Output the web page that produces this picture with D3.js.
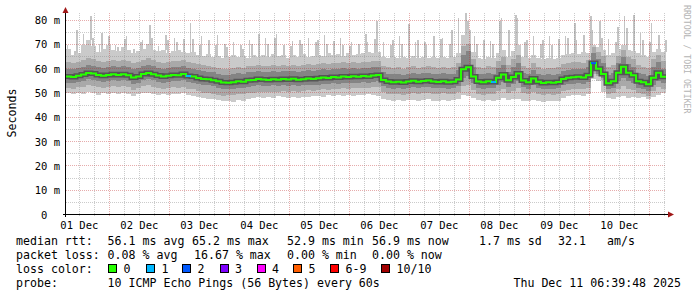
<!DOCTYPE html>
<html>
<head>
<meta charset="utf-8">
<script src="https://cdn.jsdelivr.net/npm/d3@7"></script>
<style>
body { margin: 0; background: #fff; }
svg { display: block; }
text { font-family: "DejaVu Sans Mono", monospace; fill: #000; white-space: pre; }
</style>
</head>
<body>
<svg id="chart" width="697" height="297"></svg>
<script>
// time range of the graph (10 days, 2 hour samples)
var startTime = new Date(2025, 11, 1, 6, 39, 48);
var endTime = new Date(2025, 11, 11, 6, 39, 48);
var stepHours = 2;

// median rtt per sample, ms
var medianMs = [
	57.0, 56.8, 57.3, 57.8, 58.4, 58.2, 57.6, 57.3, 57.6, 57.9,
	57.6, 57.9, 57.5, 56.6, 57.0, 58.0, 58.4, 57.9, 57.4, 57.0,
	57.3, 57.6, 57.5, 58.0, 57.2, 57.0, 56.4, 56.0, 55.9, 55.5,
	55.0, 54.5, 54.4, 54.6, 55.0, 54.8, 55.4, 55.6, 56.0, 55.8,
	55.6, 55.9, 55.7, 56.0, 55.8, 56.1, 55.7, 55.9, 56.2, 56.0,
	56.3, 56.6, 56.4, 56.8, 56.6, 57.0, 56.8, 57.1, 56.9, 57.2,
	57.0, 57.4, 57.6, 55.6, 54.9, 54.6, 54.8, 54.5, 54.9, 55.2,
	54.8, 55.1, 55.3, 54.9, 54.7, 55.0, 54.6, 54.8, 55.8, 60.0,
	60.8, 57.0, 54.9, 54.6, 55.0, 54.7, 56.5, 57.8, 55.4, 56.8,
	58.2, 55.3, 54.6, 56.2, 54.8, 54.3, 54.6, 54.4, 54.7, 56.0,
	56.5, 56.7, 56.9, 56.6, 57.5, 62.5, 60.2, 58.0, 54.2, 55.0,
	58.5, 61.0, 58.5, 57.5, 55.0, 54.6, 53.8, 56.5, 58.5, 56.9
];

// lowest ping per sample
var pingLo = [
	50.0, 49.6, 50.2, 49.8, 50.5, 50.0, 49.5, 50.1, 49.8, 50.3,
	49.9, 50.2, 49.6, 49.0, 49.8, 50.1, 50.4, 49.7, 49.5, 49.8,
	49.4, 49.8, 49.6, 50.0, 49.2, 49.0, 48.6, 48.2, 47.8, 47.6,
	47.2, 46.8, 47.0, 46.6, 47.3, 47.0, 47.8, 48.0, 48.4, 48.2,
	48.6, 48.2, 48.8, 48.4, 48.0, 48.6, 48.3, 48.7, 48.5, 48.9,
	49.0, 48.6, 49.2, 48.8, 49.4, 49.0, 49.3, 48.9, 49.2, 49.5,
	49.6, 49.2, 49.0, 47.6, 47.2, 47.0, 47.4, 46.8, 47.2, 47.5,
	47.0, 47.4, 47.6, 47.1, 46.9, 47.3, 47.0, 47.2, 47.8, 49.5,
	49.0, 48.2, 47.4, 47.0, 47.3, 46.9, 47.5, 48.0, 47.2, 47.6,
	47.8, 47.0, 46.8, 47.4, 47.0, 46.6, 47.0, 46.8, 47.1, 48.0,
	48.8, 49.2, 49.5, 49.0, 49.6, 56.0, 55.0, 50.5, 48.0, 47.6,
	48.5, 49.0, 48.2, 48.6, 48.0, 48.4, 47.8, 48.6, 49.4, 50.0
];

// lower edge of the middle smoke band
var pingQ1 = [
	52.4, 52.0, 52.6, 52.8, 53.4, 53.2, 52.6, 52.4, 52.8, 53.0,
	52.8, 53.2, 52.6, 51.6, 52.2, 53.0, 53.4, 52.8, 52.4, 52.0,
	52.2, 52.6, 52.4, 52.8, 52.0, 51.8, 51.0, 50.4, 50.2, 49.8,
	49.4, 49.0, 49.2, 49.4, 49.8, 49.6, 50.2, 50.4, 50.8, 50.6,
	50.6, 50.8, 50.6, 51.0, 50.8, 51.2, 50.8, 51.0, 51.4, 51.2,
	51.4, 51.8, 51.6, 52.0, 51.8, 52.2, 52.0, 52.4, 52.2, 52.4,
	52.2, 52.6, 52.8, 50.6, 49.8, 49.6, 49.8, 49.4, 49.8, 50.0,
	49.8, 50.0, 50.2, 49.8, 49.6, 50.0, 49.6, 49.8, 50.6, 53.0,
	53.4, 51.6, 49.8, 49.4, 49.8, 49.6, 51.0, 52.0, 50.2, 51.2,
	52.4, 50.2, 49.6, 50.8, 49.8, 49.2, 49.6, 49.4, 49.8, 51.0,
	51.6, 51.8, 52.0, 51.8, 52.4, 58.0, 57.0, 55.5, 49.6, 50.0,
	52.0, 53.0, 52.0, 51.6, 50.0, 49.6, 49.0, 51.0, 52.5, 52.0
];

// dark inner band, lower edge
var pingC1 = [
	54.5, 54.3, 54.8, 55.2, 55.8, 55.6, 55.0, 54.8, 55.1, 55.4,
	55.1, 55.4, 55.0, 54.0, 54.5, 55.5, 55.9, 55.4, 54.9, 54.5,
	54.8, 55.1, 55.0, 55.5, 54.7, 54.5, 53.8, 53.4, 53.3, 52.9,
	52.4, 51.9, 51.8, 52.0, 52.4, 52.2, 52.8, 53.0, 53.4, 53.2,
	53.0, 53.3, 53.1, 53.4, 53.2, 53.5, 53.1, 53.3, 53.6, 53.4,
	53.7, 54.0, 53.8, 54.2, 54.0, 54.4, 54.2, 54.5, 54.3, 54.6,
	54.4, 54.8, 55.0, 53.0, 52.3, 52.0, 52.2, 51.9, 52.3, 52.6,
	52.2, 52.5, 52.7, 52.3, 52.1, 52.4, 52.0, 52.2, 53.2, 56.5,
	57.0, 54.2, 52.3, 52.0, 52.4, 52.1, 53.6, 54.6, 52.8, 54.0,
	55.2, 52.7, 52.0, 53.4, 52.2, 51.7, 52.0, 51.8, 52.1, 53.4,
	53.9, 54.1, 54.3, 54.0, 54.8, 59.5, 58.0, 56.5, 51.8, 52.4,
	55.0, 56.5, 55.0, 54.5, 52.4, 52.0, 51.2, 53.5, 55.0, 54.3
];

// dark inner band, upper edge
var pingC2 = [
	60.2, 60.0, 60.6, 61.0, 61.8, 61.4, 60.8, 60.6, 60.9, 61.2,
	60.9, 61.2, 60.8, 60.0, 60.4, 61.4, 61.8, 61.2, 60.6, 60.2,
	60.6, 60.9, 60.8, 61.2, 60.4, 60.2, 59.6, 59.2, 59.0, 58.7,
	58.2, 57.8, 57.7, 57.9, 58.3, 58.1, 58.7, 58.9, 59.3, 59.0,
	58.9, 59.2, 59.0, 59.3, 59.1, 59.4, 59.0, 59.2, 59.5, 59.3,
	59.6, 59.9, 59.7, 60.1, 59.9, 60.3, 60.1, 60.4, 60.2, 60.5,
	60.3, 60.7, 60.9, 58.8, 58.2, 57.9, 58.1, 57.8, 58.2, 58.5,
	58.1, 58.4, 58.6, 58.2, 58.0, 58.3, 57.9, 58.1, 59.5, 66.0,
	67.5, 61.0, 58.2, 57.9, 58.3, 58.0, 60.5, 61.8, 58.8, 61.0,
	62.5, 58.6, 57.9, 59.8, 58.1, 57.6, 57.9, 57.7, 58.0, 59.4,
	59.8, 60.0, 60.2, 59.9, 60.8, 66.5, 64.0, 62.5, 57.8, 58.5,
	62.5, 65.0, 62.0, 61.0, 58.5, 58.0, 57.2, 61.0, 63.0, 60.2
];

// upper edge of the middle smoke band
var pingQ3 = [
	62.8, 62.4, 63.0, 63.6, 64.4, 64.0, 63.2, 63.0, 63.4, 63.8,
	63.4, 63.8, 63.2, 62.4, 62.8, 63.8, 64.4, 63.6, 63.0, 62.6,
	63.0, 63.4, 63.2, 63.8, 62.8, 62.6, 62.0, 61.6, 61.4, 61.0,
	60.6, 60.2, 60.0, 60.4, 60.8, 60.6, 61.2, 61.4, 61.8, 61.4,
	61.2, 61.6, 61.4, 61.8, 61.4, 61.8, 61.2, 61.6, 62.0, 61.8,
	62.0, 62.4, 62.2, 62.6, 62.4, 62.8, 62.6, 63.0, 62.6, 63.0,
	62.8, 63.2, 63.4, 61.4, 60.8, 60.4, 60.8, 60.2, 60.8, 61.2,
	60.6, 61.0, 61.2, 60.8, 60.6, 61.0, 60.4, 60.8, 62.5, 69.5,
	70.5, 64.0, 61.0, 60.6, 61.2, 60.8, 63.5, 65.0, 61.8, 64.0,
	66.0, 61.4, 60.6, 62.6, 60.8, 60.2, 60.6, 60.4, 60.8, 62.2,
	62.6, 62.8, 63.0, 62.6, 63.6, 69.0, 67.0, 65.5, 61.0, 61.8,
	65.5, 68.0, 65.0, 64.0, 61.6, 61.0, 60.4, 64.0, 66.0, 63.2
];

// top of the dense light smoke
var pingRoof = [
	68.5, 66.0, 66.8, 70.0, 72.0, 69.5, 67.0, 68.5, 70.0, 68.0,
	67.5, 69.0, 68.0, 66.5, 67.5, 68.5, 70.5, 68.0, 67.5, 68.0,
	66.8, 67.5, 68.0, 67.0, 66.5, 67.2, 66.0, 65.5, 66.2, 65.0,
	65.5, 64.8, 65.2, 66.0, 65.0, 65.6, 64.5, 66.0, 65.2, 65.8,
	65.0, 66.2, 65.4, 65.8, 64.6, 66.0, 65.2, 66.4, 65.0, 65.6,
	66.0, 65.4, 66.6, 65.8, 66.2, 65.6, 66.8, 66.0, 66.4, 66.8,
	67.0, 66.5, 67.2, 65.0, 64.6, 65.2, 64.4, 65.0, 64.6, 65.4,
	64.8, 65.2, 64.6, 65.0, 64.4, 65.2, 64.6, 65.0, 66.5, 74.0,
	76.0, 67.0, 64.5, 64.2, 65.0, 64.6, 66.5, 68.0, 65.0, 67.5,
	70.0, 65.0, 64.4, 66.0, 64.6, 64.0, 64.4, 64.2, 64.8, 65.8,
	66.2, 66.8, 66.4, 67.0, 66.8, 70.0, 69.0, 68.0, 66.0, 66.8,
	68.5, 70.0, 68.0, 67.5, 66.5, 66.0, 65.2, 67.0, 68.5, 67.0
];

// highest ping per sample (thin spikes)
var pingPeak = [
	70.0, 67.5, 76.0, 74.5, 82.0, 73.0, 70.5, 75.0, 73.5, 70.0,
	69.0, 72.5, 73.5, 68.5, 71.0, 72.0, 78.0, 73.0, 69.5, 74.0,
	72.0, 73.0, 71.0, 72.5, 79.0, 72.5, 70.0, 73.5, 72.0, 70.0,
	74.0, 70.5, 69.0, 71.0, 70.0, 68.5, 72.0, 70.5, 74.5, 73.0,
	70.5, 73.0, 74.5, 70.0, 69.5, 71.5, 72.0, 70.5, 73.0, 71.0,
	72.0, 74.0, 70.5, 71.5, 73.0, 70.0, 69.5, 71.0, 70.5, 74.5,
	71.0, 72.5, 80.0, 71.0, 70.0, 72.0, 73.5, 70.5, 78.5, 71.0,
	72.0, 71.0, 70.0, 73.5, 72.5, 73.0, 70.5, 76.0, 81.0, 83.0,
	80.0, 73.5, 70.5, 72.0, 71.5, 70.5, 80.0, 81.0, 76.0, 82.5,
	81.0, 71.0, 72.0, 73.5, 70.5, 72.0, 73.5, 70.0, 72.5, 73.5,
	73.0, 79.0, 72.0, 74.0, 82.0, 76.0, 80.0, 73.0, 72.5, 71.0,
	77.5, 82.0, 77.0, 82.5, 75.0, 72.0, 71.0, 79.0, 74.0, 72.0
];

// lost pings (of 10) per sample
var lossPings = [
	0, 0, 0, 0, 0, 0, 0, 0, 0, 0,
	0, 0, 0, 0, 0, 0, 0, 0, 0, 0,
	0, 0, 0, 0, 1, 0, 0, 0, 0, 0,
	0, 0, 0, 0, 0, 0, 0, 0, 0, 0,
	0, 0, 0, 0, 0, 0, 0, 0, 0, 0,
	0, 0, 0, 0, 0, 0, 0, 0, 0, 0,
	0, 0, 0, 0, 0, 0, 0, 0, 0, 0,
	0, 0, 0, 0, 0, 0, 0, 0, 0, 0,
	0, 0, 0, 0, 0, 1, 0, 0, 0, 0,
	0, 0, 0, 0, 0, 0, 0, 0, 0, 0,
	0, 0, 0, 0, 0, 2, 0, 0, 0, 0,
	0, 0, 0, 0, 0, 0, 0, 0, 0, 0
];

var dayLabels = ["01 Dec", "02 Dec", "03 Dec", "04 Dec", "05 Dec", "06 Dec", "07 Dec", "08 Dec", "09 Dec", "10 Dec"];
var yTicks = [0, 10, 20, 30, 40, 50, 60, 70, 80];
var yTickLabels = ["0  ", "10 m", "20 m", "30 m", "40 m", "50 m", "60 m", "70 m", "80 m"];

var lossLabels = ["0", "1", "2", "3", "4", "5", "6-9", "10/10"];
var lossColors = ["#26ff00", "#00b8ff", "#0059ff", "#7e00ff", "#ff00ff", "#ff5e00", "#ff0000", "#a10000"];
var rttStats = ["56.1 ms avg", "65.2 ms max", "52.9 ms min", "56.9 ms now", "1.7 ms sd", "32.1", "am/s"];
var lossStats = ["0.08 % avg", "16.67 % max", "0.00 % min", "0.00 % now"];
var probeText = "10 ICMP Echo Pings (56 Bytes) every 60s";
var stampText = "Thu Dec 11 06:39:48 2025";

function lossColor(n) {
	if (n >= 10) return lossColors[7];
	if (n >= 6) return lossColors[6];
	return lossColors[n];
}

var svg = d3.select("#chart");
var plotLeft = 66, plotRight = 666, plotTop = 15, plotBottom = 215;

var x = d3.scaleTime().domain([startTime, endTime]).range([plotLeft, plotRight]);
var y = d3.scaleLinear().domain([0, 82.3]).range([plotBottom, plotTop]);

var data = medianMs.map(function(m, i) {
	var t0 = d3.timeHour.offset(startTime, i * stepHours);
	return {
		t0: t0,
		t1: d3.timeHour.offset(t0, stepHours),
		med: m, lo: pingLo[i], q1: pingQ1[i], c1: pingC1[i], c2: pingC2[i],
		q3: pingQ3[i], roof: pingRoof[i], peak: pingPeak[i], loss: lossPings[i]
	};
});

var plot = svg.append("g").attr("shape-rendering", "crispEdges");

// smoke, from the outer band to the inner one
var layers = [
	{lo: "lo", hi: "roof", color: "#cacaca"},
	{lo: "q1", hi: "q3", color: "#a9a9a9"},
	{lo: "c1", hi: "c2", color: "#848484"}
];
layers.forEach(function(l) {
	plot.append("g").selectAll("rect")
		.data(data)
		.enter().append("rect")
		.attr("x", function(d) { return Math.round(x(d.t0)); })
		.attr("width", function(d) { return Math.round(x(d.t1)) - Math.round(x(d.t0)); })
		.attr("y", function(d) { return y(d[l.hi]); })
		.attr("height", function(d) { return y(d[l.lo]) - y(d[l.hi]); })
		.attr("fill", l.color);
});

// thin spikes of the highest ping, shifted a little inside each column
var spikeShift = [1, 3, 0, 2, 4];
plot.append("g").selectAll("rect")
	.data(data)
	.enter().append("rect")
	.attr("x", function(d, i) { return Math.round(x(d.t0)) + spikeShift[i % 5]; })
	.attr("width", function(d, i) { return i % 3 == 0 ? 1 : 2; })
	.attr("y", function(d) { return y(d.peak); })
	.attr("height", function(d) { return y(d.roof) - y(d.peak); })
	.attr("fill", "#c4c4c4");

// grid on top of the smoke
var grid = svg.append("g").attr("shape-rendering", "crispEdges");
function py(v) { return Math.round(y(v)) - 0.5; }
function px(t) { return Math.round(x(t)) + 0.5; }

var hLines = d3.range(5, 82, 5);
grid.selectAll(".hgrid")
	.data(hLines)
	.enter().append("line")
	.attr("x1", plotLeft).attr("x2", plotRight)
	.attr("y1", py).attr("y2", py)
	.attr("stroke", function(v) { return v % 10 == 0 ? "#c03030" : "#8c8c8c"; })
	.attr("stroke-opacity", function(v) { return v % 10 == 0 ? 0.4 : 0.45; })
	.attr("stroke-dasharray", "1,1");

var vLines = d3.timeHour.every(6).range(startTime, endTime);
grid.selectAll(".vgrid")
	.data(vLines)
	.enter().append("line")
	.attr("y1", plotTop - 2).attr("y2", plotBottom + 2)
	.attr("x1", px).attr("x2", px)
	.attr("stroke", function(t) { return t.getHours() == 0 ? "#c03030" : "#8c8c8c"; })
	.attr("stroke-opacity", function(t) { return t.getHours() == 0 ? 0.4 : 0.45; })
	.attr("stroke-dasharray", "1,1");

// median line with a dark core round it
var pts = data.map(function(d) { return [x(d.t0), y(d.med)]; });
pts.push([x(data[data.length - 1].t1), y(data[data.length - 1].med)]);
var stepLine = d3.line().curve(d3.curveStepAfter);

svg.append("path")
	.attr("d", stepLine(pts))
	.attr("fill", "none")
	.attr("stroke", "#555")
	.attr("stroke-width", 5);

svg.append("path")
	.attr("d", stepLine(pts))
	.attr("fill", "none")
	.attr("stroke", lossColors[0])
	.attr("stroke-width", 2);

svg.selectAll(".lossSeg")
	.data(data.filter(function(d) { return d.loss > 0; }))
	.enter().append("line")
	.attr("x1", function(d) { return x(d.t0); })
	.attr("x2", function(d) { return x(d.t1); })
	.attr("y1", function(d) { return y(d.med); })
	.attr("y2", function(d) { return y(d.med); })
	.attr("stroke", function(d) { return lossColor(d.loss); })
	.attr("stroke-width", 2);

// axes
var axis = svg.append("g").attr("shape-rendering", "crispEdges");
axis.append("line")
	.attr("x1", plotLeft - 3).attr("x2", plotRight + 2)
	.attr("y1", plotBottom - 0.5).attr("y2", plotBottom - 0.5)
	.attr("stroke", "#000");
axis.append("line")
	.attr("x1", plotLeft - 0.5).attr("x2", plotLeft - 0.5)
	.attr("y1", plotBottom + 2).attr("y2", plotTop - 2)
	.attr("stroke", "#000");
svg.append("path")
	.attr("d", "M" + (plotLeft - 3.5) + "," + (plotTop - 2) + "L" + (plotLeft - 0.5) + "," + (plotTop - 8) + "L" + (plotLeft + 2.5) + "," + (plotTop - 2) + "Z")
	.attr("fill", "#a01818");
svg.append("path")
	.attr("d", "M" + (plotRight + 2) + "," + (plotBottom - 3.5) + "L" + (plotRight + 8) + "," + (plotBottom - 0.5) + "L" + (plotRight + 2) + "," + (plotBottom + 2.5) + "Z")
	.attr("fill", "#a01818");

// tick labels
svg.append("g").selectAll("text")
	.data(yTicks)
	.enter().append("text")
	.attr("xml:space", "preserve")
	.attr("x", 60)
	.attr("y", function(v) { return y(v) + 3.5; })
	.attr("text-anchor", "end")
	.style("font-size", "10.5px")
	.text(function(v, i) { return yTickLabels[i]; });

svg.append("g").selectAll("text")
	.data(dayLabels)
	.enter().append("text")
	.attr("x", function(s, i) { return x(d3.timeHour.offset(new Date(2025, 11, 1 + i), 12)); })
	.attr("y", 229)
	.attr("text-anchor", "middle")
	.style("font-size", "10.5px")
	.text(function(s) { return s; });

svg.append("text")
	.attr("transform", "translate(15.5,113) rotate(-90)")
	.attr("text-anchor", "middle")
	.style("font-size", "11.6px")
	.text("Seconds");

svg.append("text")
	.attr("transform", "translate(684,5) rotate(90)")
	.style("font-size", "8.2px")
	.style("fill", "#b4b4b4")
	.text("RRDTOOL / TOBI OETIKER");

// legend
var legend = svg.append("g").style("font-size", "11.6px");
var rowY = [245, 259, 273, 287];
legend.append("text").attr("x", 16).attr("y", rowY[0]).text("median rtt:");
legend.append("text").attr("x", 16).attr("y", rowY[1]).text("packet loss:");
legend.append("text").attr("x", 16).attr("y", rowY[2]).text("loss color:");
legend.append("text").attr("x", 16).attr("y", rowY[3]).text("probe:");

var rttX = [107.6, 192, 287, 372, 479, 558, 607];
legend.selectAll(".rtt")
	.data(rttStats)
	.enter().append("text")
	.attr("x", function(s, i) { return rttX[i]; })
	.attr("y", rowY[0])
	.text(function(s) { return s; });

var lossX = [107.6, 194, 287, 372];
legend.selectAll(".loss")
	.data(lossStats)
	.enter().append("text")
	.attr("x", function(s, i) { return lossX[i]; })
	.attr("y", rowY[1])
	.text(function(s) { return s; });

var boxX = [108, 146, 182, 219.5, 256.5, 293, 330, 381];
var key = legend.selectAll(".key")
	.data(lossLabels)
	.enter().append("g");
key.append("rect")
	.attr("x", function(s, i) { return boxX[i] + 0.5; })
	.attr("y", rowY[2] - 8.5)
	.attr("width", 8).attr("height", 8)
	.attr("fill", function(s, i) { return lossColors[i]; })
	.attr("stroke", "#000")
	.attr("stroke-width", 1)
	.attr("shape-rendering", "crispEdges");
key.append("text")
	.attr("x", function(s, i) { return boxX[i] + 15.5; })
	.attr("y", rowY[2])
	.text(function(s) { return s; });

legend.append("text").attr("x", 107.6).attr("y", rowY[3]).text(probeText);
legend.append("text").attr("x", 681).attr("y", rowY[3]).attr("text-anchor", "end").text(stampText);
</script>
</body>
</html>
